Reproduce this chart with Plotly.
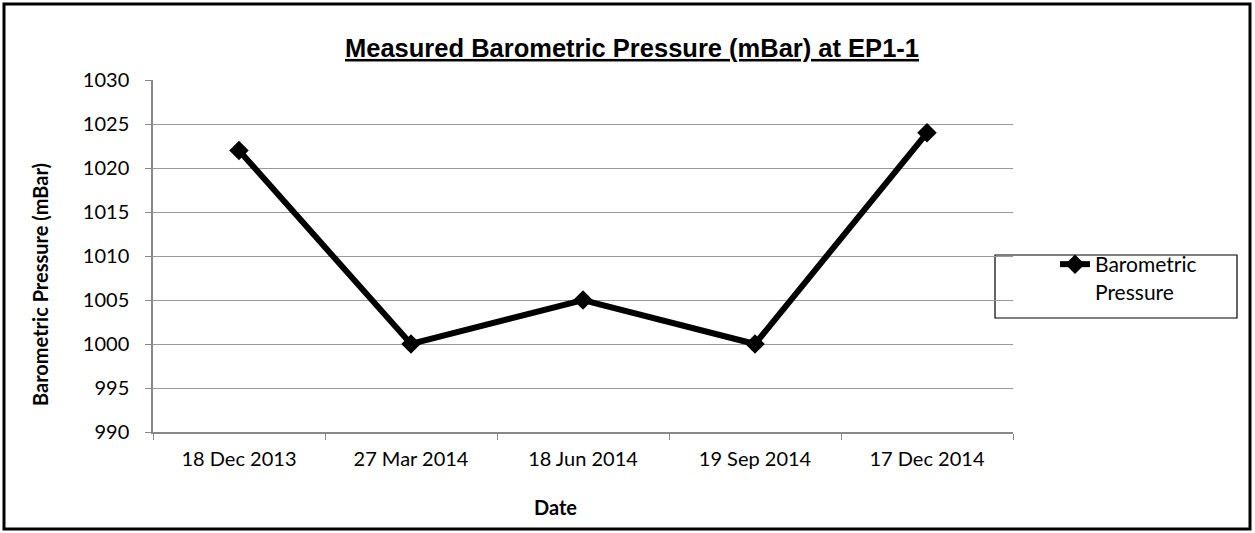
import plotly.graph_objects as go

dates = ["18 Dec 2013", "27 Mar 2014", "18 Jun 2014", "19 Sep 2014", "17 Dec 2014"]
pressure = [1022, 1000, 1005, 1000, 1024]
y_ticks = [990, 995, 1000, 1005, 1010, 1015, 1020, 1025, 1030]

W, H = 1255, 533
L, R, T, B = 153, 242, 80, 101
pw, ph = W - L - R, H - T - B

def px(x):
    return (x - L) / pw

def py(y):
    return (H - B - y) / ph

fig = go.Figure()
fig.add_trace(go.Scatter(
    x=dates, y=pressure, mode="lines+markers",
    name="Barometric<br>Pressure",
    line=dict(color="black", width=6),
    marker=dict(symbol="diamond", size=15, color="black"),
))

font_body = "Lato, 'Open Sans', sans-serif"
fig.update_layout(
    width=W, height=H,
    margin=dict(l=L, r=R, t=T, b=B),
    paper_bgcolor="white", plot_bgcolor="white",
    title=dict(text="<b><u>Measured Barometric Pressure (mBar) at EP1-1</u></b>",
               x=632 / W, xref="container", xanchor="center",
               y=1 - 48 / H, yref="container", yanchor="middle",
               font=dict(family="Liberation Sans, Arial, sans-serif", size=25.5, color="black")),
    font=dict(family=font_body, size=20, color="black"),
    showlegend=True,
    legend=dict(x=px(1055), xanchor="left", y=py(244), yanchor="top",
                borderwidth=0, bgcolor="rgba(0,0,0,0)", valign="top",
                font=dict(size=21, family=font_body),
                tracegroupgap=0),
    xaxis=dict(
        type="category", showgrid=False, showline=True, linecolor="#888888", linewidth=1.5,
        ticks="outside", ticklen=6, tickcolor="#888888", tickson="boundaries",
        tickfont=dict(size=20, family=font_body), ticklabelstandoff=8,
        range=[-0.5, 4.5],
    ),
    yaxis=dict(
        range=[990, 1030], tickvals=y_ticks, showgrid=True, gridcolor="#999999", gridwidth=1,
        showline=True, linecolor="#888888", linewidth=1.5,
        ticks="outside", ticklen=6, tickcolor="#888888",
        tickfont=dict(size=20, family=font_body), ticklabelstandoff=12,
        zeroline=False,
    ),
    annotations=[
        dict(text="<b>Date</b>", xref="paper", yref="paper", x=px(555), y=py(507),
             xanchor="center", yanchor="middle", showarrow=False,
             font=dict(size=20, family=font_body)),
        dict(text="<b>Barometric Pressure (mBar)</b>", xref="paper", yref="paper",
             x=px(40), y=py(285), textangle=-90,
             xanchor="center", yanchor="middle", showarrow=False,
             font=dict(size=20, family=font_body)),
    ],
    shapes=[
        dict(type="rect", xref="paper", yref="paper",
             x0=px(4), x1=px(1250), y0=py(529), y1=py(4),
             line=dict(color="black", width=3), fillcolor="rgba(0,0,0,0)", layer="below"),
        dict(type="rect", xref="paper", yref="paper",
             x0=px(995), x1=px(1237), y0=py(318), y1=py(255),
             line=dict(color="black", width=1.2), fillcolor="white", layer="below"),
    ],
)

fig.write_html("out.html", config={"displayModeBar": False},
               post_script="document.body.style.margin='0';")
